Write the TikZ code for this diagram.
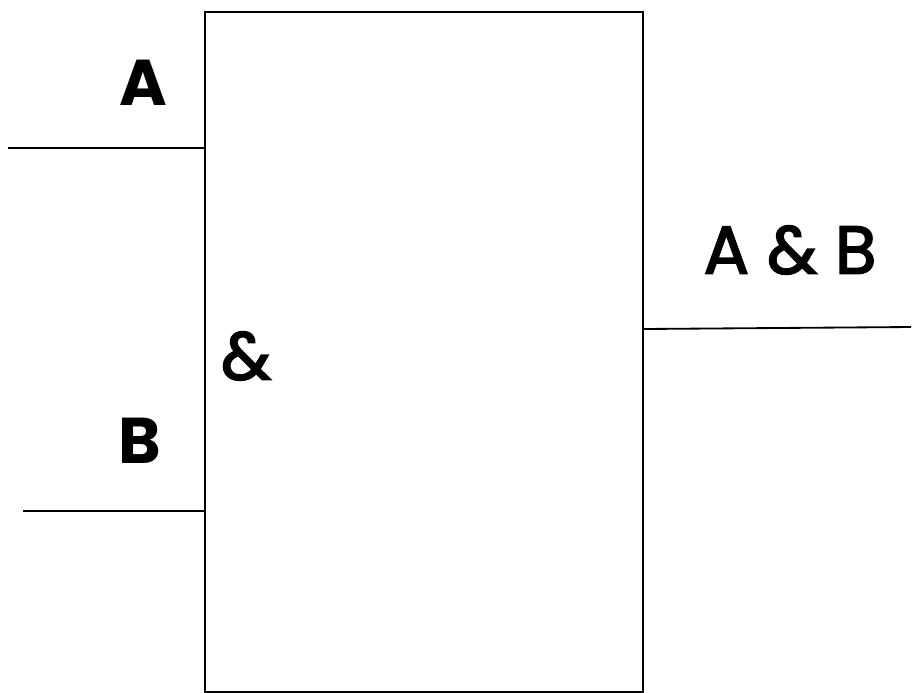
\documentclass[tikz,border=0pt]{standalone}
\usepackage{fontspec}
\setmainfont{Poppins}
\newfontfamily\thickfont{Poppins}[FakeBold=2.5]
\usepackage{xcolor}
\definecolor{Ink}{HTML}{000000}

\begin{document}
\begin{tikzpicture}[x=0.025cm,y=-0.025cm,wire/.style={draw=Ink, line width=1.3pt},gatebox/.style={draw=Ink, line width=1.3pt, minimum width=10.95cm, minimum height=17cm, inner sep=0pt},lbl/.style={text=Ink, font=\fontsize{46}{54}\selectfont\bfseries},outlbl/.style={text=Ink, font=\fontsize{48}{56}\thickfont}]
\useasboundingbox (0,0) rectangle (913,692);
\node[gatebox] (gate) at (424,352) {};
\coordinate (inA) at (8,148); \coordinate (inB) at (23,511); \coordinate (outY) at (911,327);
\draw[wire] (inA) -- (inA -| gate.west);
\draw[wire] (inB) -- (inB -| gate.west);
\draw[wire] (gate.east |- 0,329) -- (outY);
\node[lbl] (labA) at (143,83) {A};
\node[lbl] (labB) at (140,441) {B};
\node[outlbl] (labAnd) at (246,356) {\&};
\node[outlbl] (labOut) at (790,250) {A \& B};
\end{tikzpicture}
\end{document}
